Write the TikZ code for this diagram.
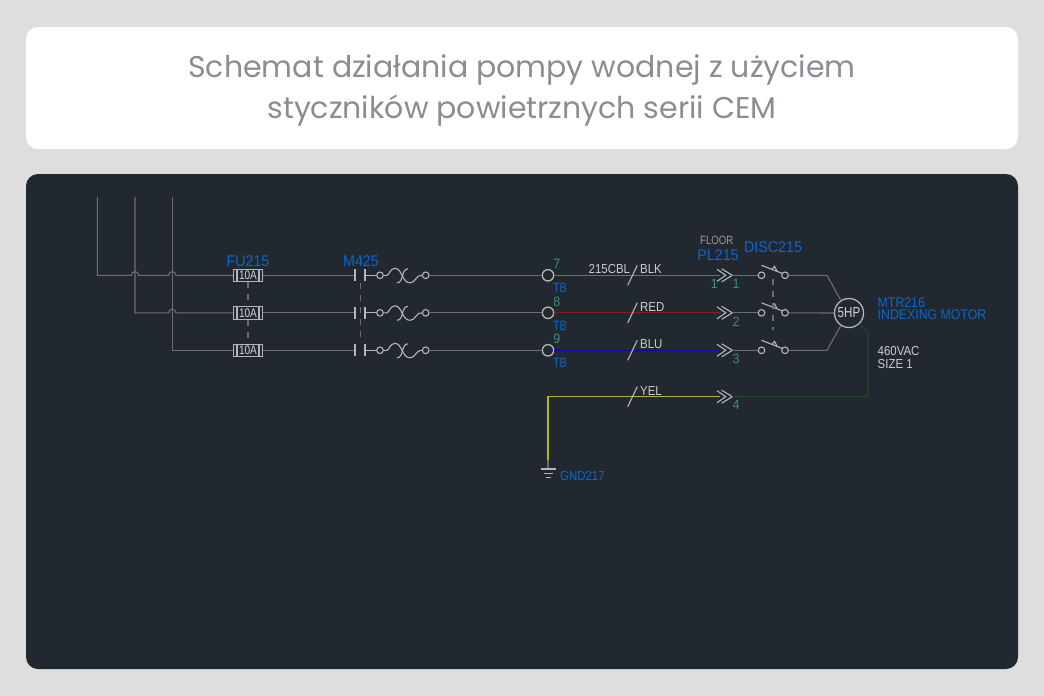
\documentclass[tikz,border=0pt]{standalone}
\usepackage{fontspec}
\setmainfont{Poppins}
\newfontfamily\cadfont[FakeStretch=0.92]{Liberation Sans}
\newfontfamily\cadnarrow[FakeStretch=0.88]{Liberation Sans}
\newfontfamily\cadtight[FakeStretch=0.8]{Liberation Sans}
\definecolor{pagegray}{HTML}{DEDEDE}
\definecolor{paneldark}{HTML}{212830}
\definecolor{titlegray}{HTML}{8A8D91}
\definecolor{wiregray}{HTML}{6C6F72}
\definecolor{symgray}{HTML}{B4B6B8}
\definecolor{cadblue}{HTML}{0C66CC}
\definecolor{cadgreen}{HTML}{3F8C7C}
\definecolor{cadred}{HTML}{8E1A1E}
\definecolor{cadnavy}{HTML}{0A0AB4}
\definecolor{cadyellow}{HTML}{B4B428}
\definecolor{caddark}{HTML}{1E4A1E}
\tikzset{
  wire/.style={wiregray,line width=1.1pt},
  link/.style={wiregray,line width=1.1pt,dash pattern=on 6pt off 6pt},
  sym/.style={symgray,line width=1.1pt},
  term/.style={circle,draw=symgray,line width=1.1pt,minimum size=6.6pt,inner sep=0pt},
  tbterm/.style={circle,draw=symgray,line width=1.3pt,minimum size=11.4pt,inner sep=0pt},
  fusebox/.style={rectangle,draw=symgray,line width=1.1pt,minimum width=29pt,minimum height=12.5pt,inner sep=0pt,
    text=symgray!60!white,font=\cadtight\fontsize{12.5}{12.5}\selectfont,
    path picture={
      \draw[symgray] ([xshift=3.5pt]path picture bounding box.south west) -- ([xshift=3.5pt]path picture bounding box.north west);
      \draw[symgray] ([xshift=-3.5pt]path picture bounding box.south east) -- ([xshift=-3.5pt]path picture bounding box.north east);}},
  bluetxt/.style={text=cadblue,inner sep=0pt,yshift=-0.4pt,font=\cadfont\fontsize{15.5}{15.5}\selectfont},
  tbtxt/.style={text=cadblue,inner sep=0pt,font=\cadtight\fontsize{13.5}{13.5}\selectfont},
  bluesmall/.style={text=cadblue,inner sep=0pt,anchor=west,yshift=-0.6pt,font=\cadnarrow\fontsize{14}{14}\selectfont},
  greentxt/.style={text=cadgreen,inner sep=0pt,font=\cadfont\fontsize{13.5}{13.5}\selectfont},
  whitetxt/.style={text=symgray!70!white,inner sep=0pt,anchor=west,yshift=-0.6pt,font=\cadnarrow\fontsize{13}{13}\selectfont},
  pics/heater/.style={code={
    \draw[sym] (3.3,0) -- (7,0) .. controls (9,0) and (10,-7) .. (15,-7)
       .. controls (22,-7) and (22,7.5) .. (30,7.5) .. controls (36,7.5) and (35,0) .. (42.4,0);
    \draw[sym] (17,7.5) .. controls (24,7.5) and (21,-6.5) .. (28,-6.5);}},
  pics/blade/.style={code={
    \draw[sym] (0,-10) -- (21,-1.8);
    \draw[sym] (10.5,-5.8) -- (13,-9) -- (15.5,-4.2);}},
  pics/chevrons/.style={code={
    \draw[sym] (-15.3,-6) -- (-6.6,0) -- (-15.3,6);
    \draw[sym] (-10.6,-6.5) -- (0,0) -- (-10.6,6.5);}},
  pics/earth/.style={code={
    \draw[sym] (-7.5,0) -- (7.5,0);
    \draw[sym] (-4.5,4.5) -- (4.5,4.5);
    \draw[sym] (-2.5,8.5) -- (2.5,8.5);}}
}
\begin{document}
\begin{tikzpicture}[x=1pt,y=-1pt]
    \useasboundingbox (0,0) rectangle (1044,696);
    \fill[pagegray] (0,0) rectangle (1044,696);
    \fill[white,rounded corners=12pt] (26,27) rectangle (1018,149);
    \fill[paneldark,rounded corners=12pt] (26,174) rectangle (1018,669);
    \node(title1) at (522,70) {\textcolor{titlegray}{\fontsize{30}{30}\selectfont Schemat działania pompy wodnej z użyciem}};
    \node(title2) at (522,111) {\textcolor{titlegray}{\fontsize{30}{30}\selectfont styczników powietrznych serii CEM}};

    % supply
    \coordinate(bus1) at (97.3,197);
    \coordinate(bus2) at (135,197);
    \coordinate(bus3) at (172.3,197);
    \node[fusebox](fu1) at (248,275.3) {10A};
    \node[fusebox](fu2) at (248,312.8) {10A};
    \node[fusebox](fu3) at (248,350.3) {10A};
    \draw[wire] (bus2) -- (bus2 |- fu2) -- (168.6,312.8) arc (180:360:3.7) -- (fu2);
    \draw[wire] (bus3) -- (bus3 |- fu3) -- (fu3);
    \draw[wire] (bus1) -- (bus1 |- fu1) -- (131.3,275.3) arc (180:360:3.7)
        -- (168.6,275.3) arc (180:360:3.7) -- (fu1);
    \draw[link] (fu1) -- (fu2);
    \draw[link] (fu2) -- (fu3);
    \node[bluetxt](fulabel) at (248,261) {FU215};

    % contactor
    \coordinate(ka1) at (355,275.3);
    \coordinate(ka2) at (355,312.8);
    \coordinate(ka3) at (355,350.3);
    \coordinate(kb1) at (365,275.3);
    \coordinate(kb2) at (365,312.8);
    \coordinate(kb3) at (365,350.3);
    \node[term](ha1) at (380,275.3) {};
    \node[term](ha2) at (380,312.8) {};
    \node[term](ha3) at (380,350.3) {};
    \node[term](hb1) at (425.7,275.3) {};
    \node[term](hb2) at (425.7,312.8) {};
    \node[term](hb3) at (425.7,350.3) {};
    \draw[wire] (fu1) -- (ka1);
    \draw[wire] (fu2) -- (ka2);
    \draw[wire] (fu3) -- (ka3);
    \draw[sym] (ka1) ++(0,-6) -- ++(0,12);
    \draw[sym] (ka2) ++(0,-6) -- ++(0,12);
    \draw[sym] (ka3) ++(0,-6) -- ++(0,12);
    \draw[sym] (kb1) ++(0,-6) -- ++(0,12);
    \draw[sym] (kb2) ++(0,-6) -- ++(0,12);
    \draw[sym] (kb3) ++(0,-6) -- ++(0,12);
    \draw[sym] (kb1) -- (ha1);
    \draw[sym] (kb2) -- (ha2);
    \draw[sym] (kb3) -- (ha3);
    \pic at (ha1) {heater};
    \pic at (ha2) {heater};
    \pic at (ha3) {heater};
    \coordinate(kl1) at (360.5,283);
    \coordinate(kl2) at (360.5,343);
    \draw[link] (kl1) -- (kl2);
    \node[bluetxt](mlabel) at (361,261) {M425};

    % terminals
    \node[tbterm](tb1) at (548,275.3) {};
    \node[tbterm](tb2) at (548,312.8) {};
    \node[tbterm](tb3) at (548,350.3) {};
    \draw[wire] (hb1) -- (tb1);
    \draw[wire] (hb2) -- (tb2);
    \draw[wire] (hb3) -- (tb3);
    \node[greentxt](n7) at (556.7,264) {7};
    \node[greentxt](n8) at (556.7,301.7) {8};
    \node[greentxt](n9) at (556.7,339) {9};
    \node[tbtxt](tbl1) at (560,288) {TB};
    \node[tbtxt](tbl2) at (560,326) {TB};
    \node[tbtxt](tbl3) at (560,363) {TB};

    % cable
    \coordinate(c1) at (720,275.3);
    \coordinate(c2) at (720,312.8);
    \coordinate(c3) at (720,350.3);
    \coordinate(c4) at (720,396.7);
    \coordinate(p1) at (732.3,275.3);
    \coordinate(p2) at (732.3,312.8);
    \coordinate(p3) at (732.3,350.3);
    \coordinate(p4) at (732.3,396.7);
    \coordinate(gnd) at (548,469);
    \coordinate(gndy) at (548,460);
    \draw[wire] (tb1) -- (c1);
    \draw[cadred,line width=1.3pt] (tb2) -- (c2);
    \draw[cadnavy,line width=1.3pt] (tb3) -- (c3);
    \draw[cadyellow,line width=1.3pt] (gndy) |- (c4);
    \draw[wire] (gndy) -- (gnd);
    \pic at (gnd) {earth};
    \node[whitetxt](gndlabel) at (560,475) {\textcolor{cadblue}{GND217}};
    \draw[sym] (627.7,285.3) -- (637.3,265.3);
    \draw[sym] (627.7,322.8) -- (637.3,302.8);
    \draw[sym] (627.7,360.3) -- (637.3,340.3);
    \draw[sym] (627.7,406.7) -- (637.3,386.7);
    \node[whitetxt](cbl) at (588.5,268) {215CBL};
    \node[whitetxt](blk) at (640,268) {BLK};
    \node[whitetxt](red) at (640,306) {RED};
    \node[whitetxt](blu) at (640,343.7) {BLU};
    \node[whitetxt](yel) at (640,390) {YEL};

    % plug
    \pic at (p1) {chevrons};
    \pic at (p2) {chevrons};
    \pic at (p3) {chevrons};
    \pic at (p4) {chevrons};
    \node[text=wiregray!70!white,inner sep=0pt,yshift=-0.6pt,font=\cadtight\fontsize{12}{12}\selectfont](floor) at (716.7,240) {FLOOR};
    \node[bluetxt](pl) at (718,254.3) {PL215};
    \node[greentxt](a1) at (714.3,284) {1};
    \node[greentxt](b1) at (736,284) {1};
    \node[greentxt](b2) at (736,322) {2};
    \node[greentxt](b3) at (736,359) {3};
    \node[greentxt](b4) at (736,405) {4};

    % disconnect
    \node[term](da1) at (761.5,275.3) {};
    \node[term](da2) at (761.5,312.8) {};
    \node[term](da3) at (761.5,350.3) {};
    \node[term](db1) at (785,275.3) {};
    \node[term](db2) at (785,312.8) {};
    \node[term](db3) at (785,350.3) {};
    \draw[wire] (p1) -- (da1);
    \draw[wire] (p2) -- (da2);
    \draw[wire] (p3) -- (da3);
    \pic at (da1) {blade};
    \pic at (da2) {blade};
    \pic at (da3) {blade};
    \coordinate(dl1) at (773,279);
    \coordinate(dl2) at (773,330);
    \draw[link] (dl1) -- (dl2);
    \node[bluetxt](disc) at (773,247) {DISC215};

    % motor
    \node[circle,draw=symgray,line width=1.3pt,minimum size=29pt,inner sep=0pt,text=symgray!60!white,
        font=\cadtight\fontsize{14.5}{14.5}\selectfont](mot) at (849,313) {5HP};
    \coordinate(bend1) at (827,275.3);
    \coordinate(bend3) at (827,350.3);
    \coordinate(gbend1) at (867.7,396.7);
    \coordinate(gbend2) at (867.7,331.7);
    \draw[wire] (db1) -- (bend1) -- (mot.123);
    \draw[wire] (db2) -- (mot.west);
    \draw[wire] (db3) -- (bend3) -- (mot.237);
    \draw[caddark,line width=1.1pt] (p4) -- (gbend1) -- (gbend2) -- (mot.-48);
    \node[bluesmall](mtr) at (877.5,302) {MTR216};
    \node[bluesmall](idx) at (877.5,314.5) {INDEXING MOTOR};
    \node[whitetxt](volt) at (877.5,350) {460VAC};
    \node[whitetxt](size) at (877.5,363) {SIZE 1};
\end{tikzpicture}
\end{document}
